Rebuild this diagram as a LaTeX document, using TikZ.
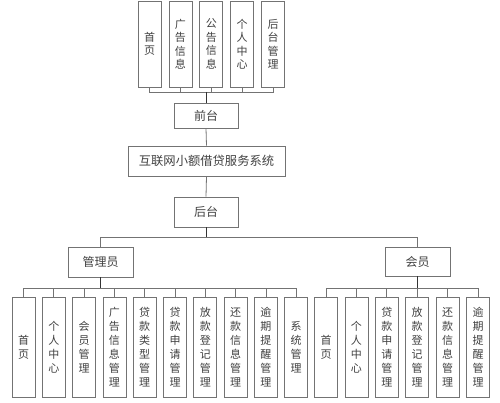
\documentclass[tikz,border=0pt]{standalone}
\usepackage{fontspec}
\setmainfont{Noto Sans CJK SC}
\begin{document}
\begin{tikzpicture}[x=1pt, y=-1pt, line width=0.8pt,
    every node/.style={draw=black!55, text=black!75, inner sep=0pt, align=center,
      font=\fontsize{11}{14}\selectfont},
    colbox/.style={minimum width=23pt, minimum height=100pt},
    topbox/.style={minimum width=23pt, minimum height=86pt, font=\fontsize{11}{13.5}\selectfont},
    midbox/.style={minimum width=64pt, minimum height=28pt, font=\fontsize{12}{14}\selectfont},
    link/.style={draw=black!55, line width=0.8pt},
    trunk/.style={draw=black!80, line width=1pt}]
    \useasboundingbox (0,0) rectangle (500,403);
    % front pages
    \foreach \lab [count=\i] in {{首\\页},{广\\告\\信\\息},{公\\告\\信\\息},{个\\人\\中\\心},{后\\台\\管\\理}}
        \node[topbox] (t\i) at (149.5+30.9*\i-30.9,44) {\lab};
    \node[midbox, minimum height=25pt] (qt) at (206,115.5) {前台};
    \node[midbox, minimum width=157pt, minimum height=30pt, font=\fontsize{12.3}{14}\selectfont] (sys) at (206.5,161) {互联网小额借贷服务系统};
    \node[midbox, minimum height=30pt] (ht) at (206,212) {后台};
    \node[midbox, minimum width=65pt, minimum height=30pt] (gly) at (100.5,262) {管理员};
    \node[midbox, minimum width=65pt, minimum height=29pt] (hy) at (417.5,261.5) {会员};
    % admin pages
    \foreach \lab [count=\i] in {{首\\页},{个\\人\\中\\心},{会\\员\\管\\理},{广\\告\\信\\息\\管\\理},{贷\\款\\类\\型\\管\\理},
        {贷\\款\\申\\请\\管\\理},{放\\款\\登\\记\\管\\理},{还\\款\\信\\息\\管\\理},{逾\\期\\提\\醒\\管\\理},{系\\统\\管\\理}}
        \node[colbox] (a\i) at (23.5+30.3*\i-30.3,347.5) {\lab};
    % member pages
    \foreach \lab [count=\i] in {{首\\页},{个\\人\\中\\心},{贷\\款\\申\\请\\管\\理},{放\\款\\登\\记\\管\\理},
        {还\\款\\信\\息\\管\\理},{逾\\期\\提\\醒\\管\\理}}
        \node[colbox] (m\i) at (326+30.4*\i-30.4,347.5) {\lab};

    \coordinate (tb) at (206,92);
    \coordinate (hb) at (206,237);
    \coordinate (ab) at (100.5,288);
    \coordinate (mb) at (417.5,288);
    \foreach \i in {1,...,5} \draw[link] (t\i.south) |- (tb);
    \draw[trunk] (tb) -- (qt.north);
    \draw[link] (qt.south) -- (sys.north);
    \draw[link] (sys.south) -- (ht.north);
    \draw[trunk] (ht.south) -- (hb);
    \draw[link] (hb) -| (gly.north);
    \draw[link] (hb) -| (hy.north);
    \draw[trunk] (gly.south) -- (ab);
    \draw[trunk] (hy.south) -- (mb);
    \foreach \i in {1,...,10} \draw[link] (a\i.north) |- (ab);
    \foreach \i in {1,...,6} \draw[link] (m\i.north) |- (mb);
\end{tikzpicture}
\end{document}
